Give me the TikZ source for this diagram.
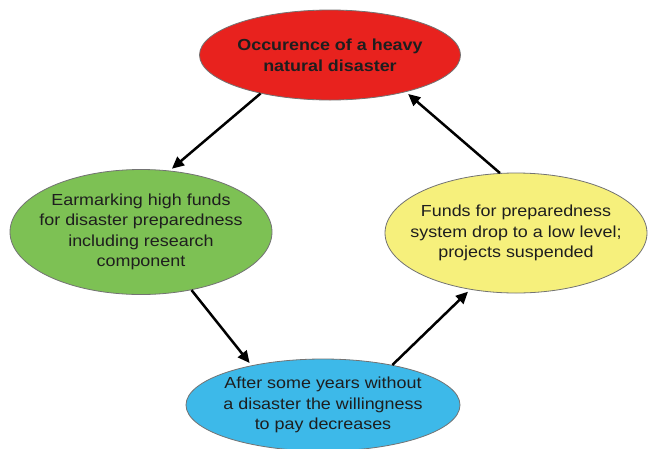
\documentclass[tikz,border=0pt]{standalone}
\usepackage{fontspec}
\setmainfont[FakeStretch=1.12]{Liberation Sans}
\usetikzlibrary{shapes.geometric,arrows.meta}
\definecolor{cred}{HTML}{E8221E}
\definecolor{cgreen}{HTML}{7DC154}
\definecolor{cyellow}{HTML}{F6F07C}
\definecolor{cblue}{HTML}{3DB9E9}
\definecolor{ctext}{HTML}{1E1E1E}
\begin{document}
\begin{tikzpicture}[x=1pt,y=-1pt,
  bubble/.style={ellipse, draw=black!55, line width=0.8pt, inner xsep=-40pt, inner ysep=-15pt,
    align=center, text=ctext, font=\fontsize{16}{20.5}\selectfont},
  arr/.style={-{Triangle[length=12pt,width=11pt]}, line width=2.5pt, black, shorten >=3pt}]
\clip (0,0) rectangle (648,448);
\fill[white] (0,0) rectangle (648,448);
\node[bubble, fill=cred, minimum width=261pt, minimum height=90pt,
  font=\fontsize{16}{21}\selectfont\bfseries] (red) at (330,55)
  {Occurence of a heavy\\natural disaster};
\node[bubble, fill=cgreen, minimum width=262pt, minimum height=125pt] (green) at (141,232)
  {Earmarking high funds\\for disaster preparedness\\including research\\component};
\node[bubble, fill=cyellow, minimum width=262pt, minimum height=120pt] (yellow) at (516,233)
  {Funds for preparedness\\system drop to a low level;\\projects suspended};
\node[bubble, fill=cblue, minimum width=274pt, minimum height=92pt] (blue) at (323,405)
  {After some years without\\a disaster the willingness\\to pay decreases};
\draw[arr] (red.209) -- (green.65);
\draw[arr] (green.-49) -- (blue.151);
\draw[arr] (blue.30) -- (yellow.231);
\draw[arr] (yellow.105) -- (red.334);
\end{tikzpicture}
\end{document}
